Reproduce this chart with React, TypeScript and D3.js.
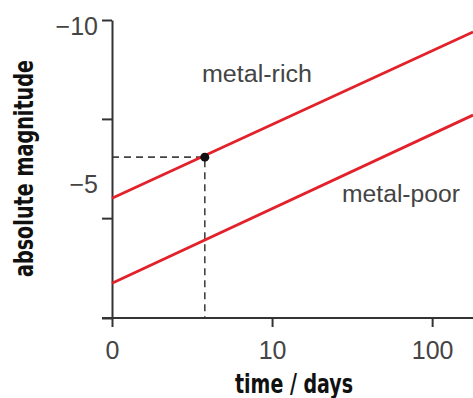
import React, { useRef, useEffect } from 'react'
import * as d3 from 'd3'

// values
const times = [1, 180]
const metalRich = [-4.49, -9.75]
const metalPoor = [-1.8, -7.12]
const pointTime = 3.8
const pointMag = -5.79
const xTicks = [1, 10, 100]
const xTickLabels = ['0', '10', '100']
const yTicks = [-0.7, -3.86, -7.0, -10.13]
const yLabelValues = [-10, -5]
const yLabels = ['\u221210', '\u22125']

const App = () => {
  const ref = useRef<SVGSVGElement>(null)

  useEffect(() => {
    if (!ref.current) return
    const svg = d3.select(ref.current)
    svg.selectAll('*').remove()

    const width = 473
    const red = '#e3212b'
    const ink = '#333'
    const tickFont = '"Liberation Sans", Arial, sans-serif'
    const titleFont = '"Liberation Sans Narrow", "DejaVu Sans Condensed", sans-serif'

    const x = d3.scaleLog().domain([1, 180]).range([112, 473])
    const y = d3.scaleLinear().domain([-0.7, -10.13]).range([318, 20])

    // dashed guides to the marked point
    svg.append('path')
      .attr('d', `M${x(1)},${y(pointMag)}H${x(pointTime)}V${y(-0.7)}`)
      .attr('fill', 'none')
      .attr('stroke', '#444')
      .attr('stroke-width', 1.6)
      .attr('stroke-dasharray', '7,5')

    // axes
    const gy = svg.append('g')
      .attr('transform', `translate(${x(1)},0)`)
      .call(d3.axisLeft(y).tickValues(yTicks).tickFormat(() => '').tickSize(10).tickSizeOuter(0))
    const gx = svg.append('g')
      .attr('transform', `translate(0,${y(-0.7)})`)
      .call(d3.axisBottom(x).tickValues(xTicks).tickFormat((d, i) => xTickLabels[i]).tickSize(9).tickSizeOuter(0))

    ;[gx, gy].forEach(g => {
      g.selectAll('path, line').attr('stroke', ink).attr('stroke-width', 2)
    })
    gx.select('.domain').attr('d', `M${x(1) - 10},0H${width}`)
    gx.selectAll('text')
      .attr('font-family', tickFont)
      .attr('font-size', 25)
      .attr('fill', '#444')
      .attr('y', 41)
      .attr('dy', 0)

    svg.append('g').selectAll('text')
      .data(yLabelValues)
      .join('text')
      .attr('x', 98)
      .attr('y', d => y(d) + 2)
      .attr('dy', '0.36em')
      .attr('text-anchor', 'end')
      .attr('font-family', tickFont)
      .attr('font-size', 25)
      .attr('fill', '#444')
      .text((d, i) => yLabels[i])

    // the two relations
    const line = d3.line<number>()
      .x((d, i) => x(times[i]))
      .y(d => y(d))
    ;[metalRich, metalPoor].forEach(series => {
      svg.append('path')
        .attr('d', line(series))
        .attr('fill', 'none')
        .attr('stroke', red)
        .attr('stroke-width', 2.8)
    })

    svg.append('circle')
      .attr('cx', x(pointTime))
      .attr('cy', y(pointMag))
      .attr('r', 4.5)
      .attr('fill', '#111')

    // labels
    svg.append('text')
      .attr('x', 202).attr('y', 82)
      .attr('font-family', tickFont).attr('font-size', 23).attr('fill', '#444')
      .attr('textLength', 110).attr('lengthAdjust', 'spacingAndGlyphs')
      .text('metal-rich')
    svg.append('text')
      .attr('x', 342).attr('y', 202)
      .attr('font-family', tickFont).attr('font-size', 23).attr('fill', '#444')
      .attr('textLength', 118).attr('lengthAdjust', 'spacingAndGlyphs')
      .text('metal-poor')

    svg.append('text')
      .attr('x', 235).attr('y', 393)
      .attr('font-family', titleFont).attr('font-weight', 'bold').attr('font-size', 26).attr('fill', '#111')
      .attr('textLength', 118).attr('lengthAdjust', 'spacingAndGlyphs')
      .text('time / days')
    svg.append('text')
      .attr('transform', 'translate(33,277) rotate(-90)')
      .attr('font-family', titleFont).attr('font-weight', 'bold').attr('font-size', 26).attr('fill', '#111')
      .attr('textLength', 217).attr('lengthAdjust', 'spacingAndGlyphs')
      .text('absolute magnitude')
  }, [])

  return (
    <svg ref={ref} width={473} height={398}
      style={{ position: 'absolute', left: 0, top: 0, background: '#fff' }} />
  )
}

export default App
